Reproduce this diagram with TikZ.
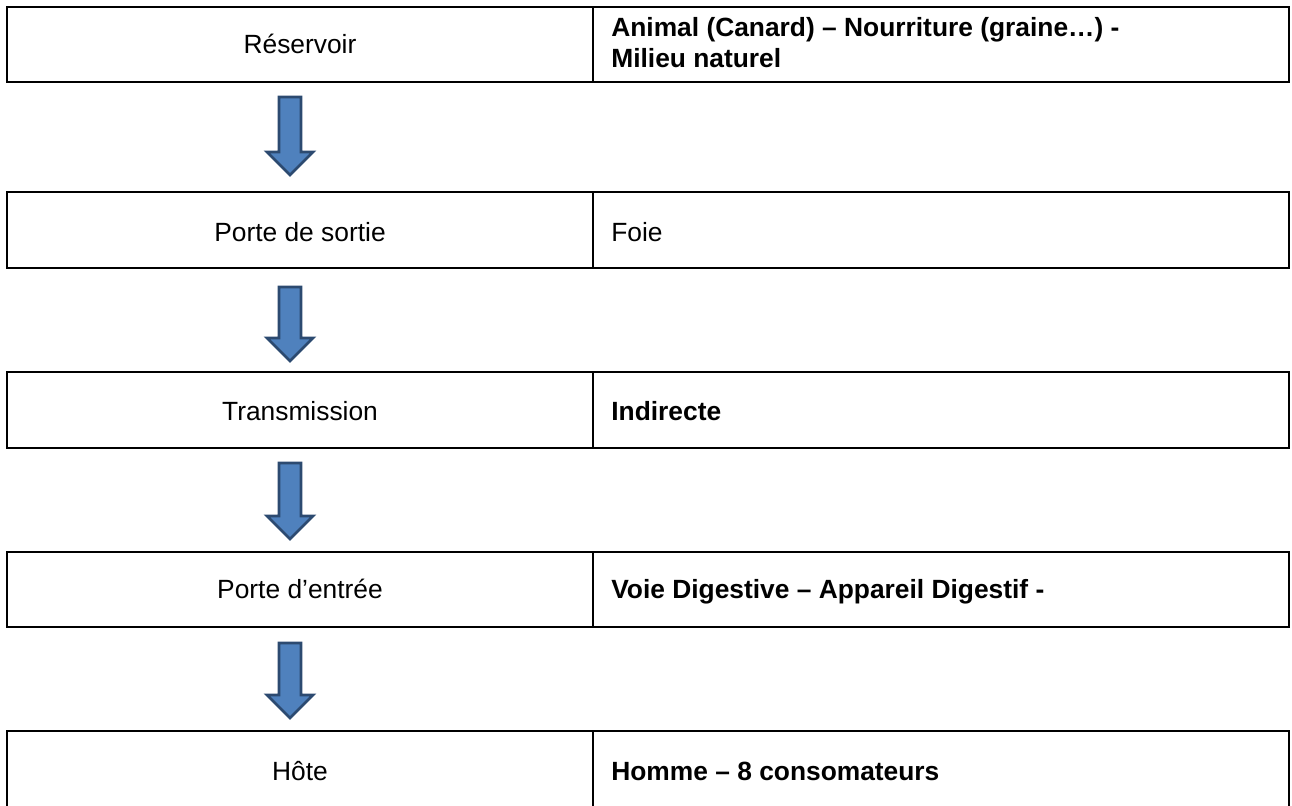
\documentclass[tikz,border=0pt]{standalone}
\usepackage{fontspec}
\setmainfont{Liberation Sans}
\usepackage{tikz}

\definecolor{flechebleu}{HTML}{4F81BD}
\definecolor{flechebord}{HTML}{2C4A70}

\begin{document}
\begin{tikzpicture}[x=0.02cm, y=-0.02cm,
      cellule/.style={line width=1.5pt},
      etiquette/.style={inner sep=0pt, font=\fontsize{15}{18.5}\selectfont},
      fleche/.style={fill=flechebleu, draw=flechebord, line width=1.6pt, line join=miter}]
            \useasboundingbox (0,0) rectangle (1292,805); % page of the same size as the scan

            % the five rows of the table, left cell and right cell
            \draw[cellule] (7,7) rectangle (593,82);
            \draw[cellule] (593,7) rectangle (1289,82);
            \draw[cellule] (7,192) rectangle (593,268);
            \draw[cellule] (593,192) rectangle (1289,268);
            \draw[cellule] (7,372) rectangle (593,448);
            \draw[cellule] (593,372) rectangle (1289,448);
            \draw[cellule] (7,552) rectangle (593,627);
            \draw[cellule] (593,552) rectangle (1289,627);
            \draw[cellule] (7,731) rectangle (593,810); % last row runs off the page
            \draw[cellule] (593,731) rectangle (1289,810);

            % names of the steps, centred in the left column
            \node[etiquette, anchor=base] (reservoir) at (300,53) {Réservoir};
            \node[etiquette, anchor=base] (sortie) at (300,241) {Porte de sortie};
            \node[etiquette, anchor=base] (transmission) at (300,420) {Transmission};
            \node[etiquette, anchor=base] (entree) at (300,598) {Porte d’entrée};
            \node[etiquette, anchor=base] (hote) at (300,780) {Hôte};

            % answers, left aligned in the right column
            \node[etiquette, anchor=base west, font=\fontsize{15}{18.5}\selectfont\bfseries] (reservoirval) at (611,36) {Animal (Canard) – Nourriture (graine…) -};
            \node[etiquette, anchor=base west, font=\fontsize{15}{18.5}\selectfont\bfseries] (reservoirval2) at (611,67) {Milieu naturel};
            \node[etiquette, anchor=base west] (sortieval) at (611,241) {Foie};
            \node[etiquette, anchor=base west, font=\fontsize{15}{18.5}\selectfont\bfseries] (transmissionval) at (611,420) {Indirecte};
            \node[etiquette, anchor=base west, font=\fontsize{15}{18.5}\selectfont\bfseries] (entreeval) at (611,598) {Voie Digestive – Appareil Digestif -};
            \node[etiquette, anchor=base west, font=\fontsize{15}{18.5}\selectfont\bfseries] (hoteval) at (611,780) {Homme – 8 consomateurs};

            % block arrows between the rows
            \draw[fleche] (279,97) -- (301,97) -- (301,152) -- (313,152) -- (290,175) -- (267,152) -- (279,152) -- cycle;
            \draw[fleche] (279,287) -- (301,287) -- (301,338) -- (313,338) -- (290,361) -- (267,338) -- (279,338) -- cycle;
            \draw[fleche] (279,463) -- (301,463) -- (301,516) -- (313,516) -- (290,539) -- (267,516) -- (279,516) -- cycle;
            \draw[fleche] (279,643) -- (301,643) -- (301,695) -- (313,695) -- (290,718) -- (267,695) -- (279,695) -- cycle;
      \end{tikzpicture}
\end{document}
